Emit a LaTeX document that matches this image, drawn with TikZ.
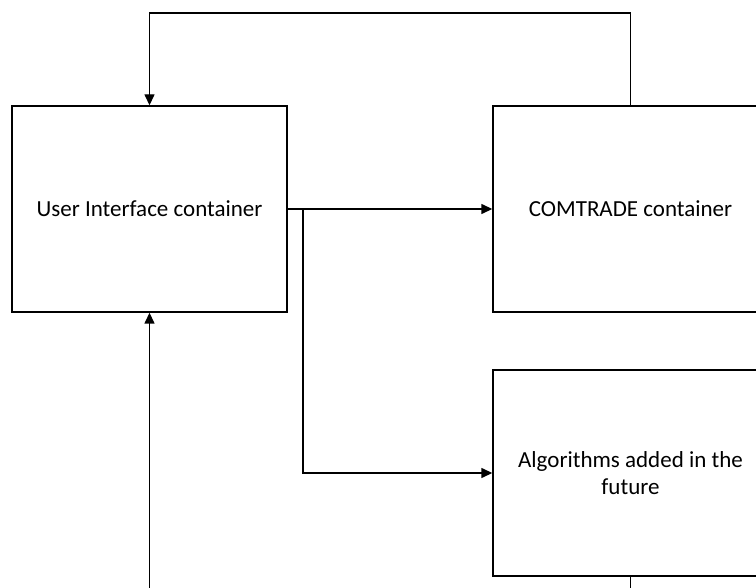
\documentclass[tikz,border=0pt]{standalone}
\usepackage{fontspec}
\setmainfont{Carlito}
\usetikzlibrary{arrows.meta}
\begin{document}
\begin{tikzpicture}[x=1pt,y=-1pt,
  block/.style={draw=black,line width=1.4pt,rectangle,minimum width=275pt,minimum height=206pt,
    align=center,font=\fontsize{23}{27}\selectfont,inner sep=0pt},
  link/.style={draw=black,line width=1.4pt},
  flow/.style={link,-{Triangle[length=11pt,width=10pt]}}]
  \useasboundingbox (0,0) rectangle (756,588);
  \clip (0,0) rectangle (756,588);

  % containers
  \node[block] (ui)  at (149.5,209) {User Interface container};
  \node[block] (com) at (630.5,209) {COMTRADE container};
  \node[block] (alg) at (630.5,473) {Algorithms added in the\\future};

  % turning points of the connectors
  \coordinate (loopR) at (630.5,13);
  \coordinate (loopL) at (149.5,13);
  \coordinate (fork)  at (303,209);
  \coordinate (uiIn)  at (149.5,600);
  \coordinate (algOut) at (630.5,600);

  % return path from COMTRADE back to the user interface
  \draw[flow] (com.north) -- (loopR) -- (loopL) -- (ui.north);
  % user interface feeds both containers
  \draw[flow] (ui.east) -- (com.west);
  \draw[flow] (fork) |- (alg.west);
  % lines continuing below the picture
  \draw[flow] (uiIn) -- (ui.south);
  \draw[link] (alg.south) -- (algOut);
\end{tikzpicture}
\end{document}
